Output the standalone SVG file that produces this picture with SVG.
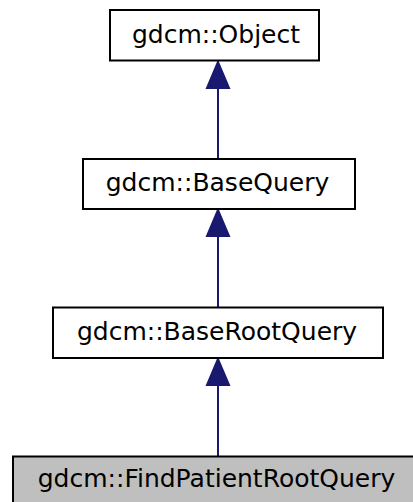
<svg xmlns="http://www.w3.org/2000/svg" width="413" height="502" viewBox="0 0 413 502">
<style>
.box{fill:#ffffff;stroke:#000000;stroke-width:2}
.cur{fill:#bfbfbf;stroke:#000000;stroke-width:2}
.lbl{font-family:"DejaVu Sans",sans-serif;font-size:25px;fill:#000000;text-anchor:middle}
.edge{stroke:#191970;stroke-width:2;fill:none}
.head{fill:#191970;stroke:#191970;stroke-width:2}
</style>
<rect width="413" height="502" fill="#ffffff"/>
<g id="connectors">
<line class="edge" x1="218" y1="88" x2="218" y2="159"/>
<polygon class="head" points="218,62 207,88 229,88"/>
<line class="edge" x1="218" y1="236" x2="218" y2="307"/>
<polygon class="head" points="218,210 207,236 229,236"/>
<line class="edge" x1="218" y1="385" x2="218" y2="456"/>
<polygon class="head" points="218,359 207,385 229,385"/>
</g>
<g id="node-object">
<rect class="box" x="110" y="10" width="209" height="50.5"/>
<text class="lbl" x="216" y="42.5">gdcm::Object</text>
</g>
<g id="node-basequery">
<rect class="box" x="83" y="159" width="272" height="50"/>
<text class="lbl" x="217.5" y="191">gdcm::BaseQuery</text>
</g>
<g id="node-baserootquery">
<rect class="box" x="53" y="307.5" width="330" height="50.5"/>
<text class="lbl" x="217" y="340">gdcm::BaseRootQuery</text>
</g>
<g id="node-findpatientrootquery">
<rect class="cur" x="13" y="456.5" width="410" height="50"/>
<text class="lbl" x="216.5" y="487">gdcm::FindPatientRootQuery</text>
</g>
</svg>
